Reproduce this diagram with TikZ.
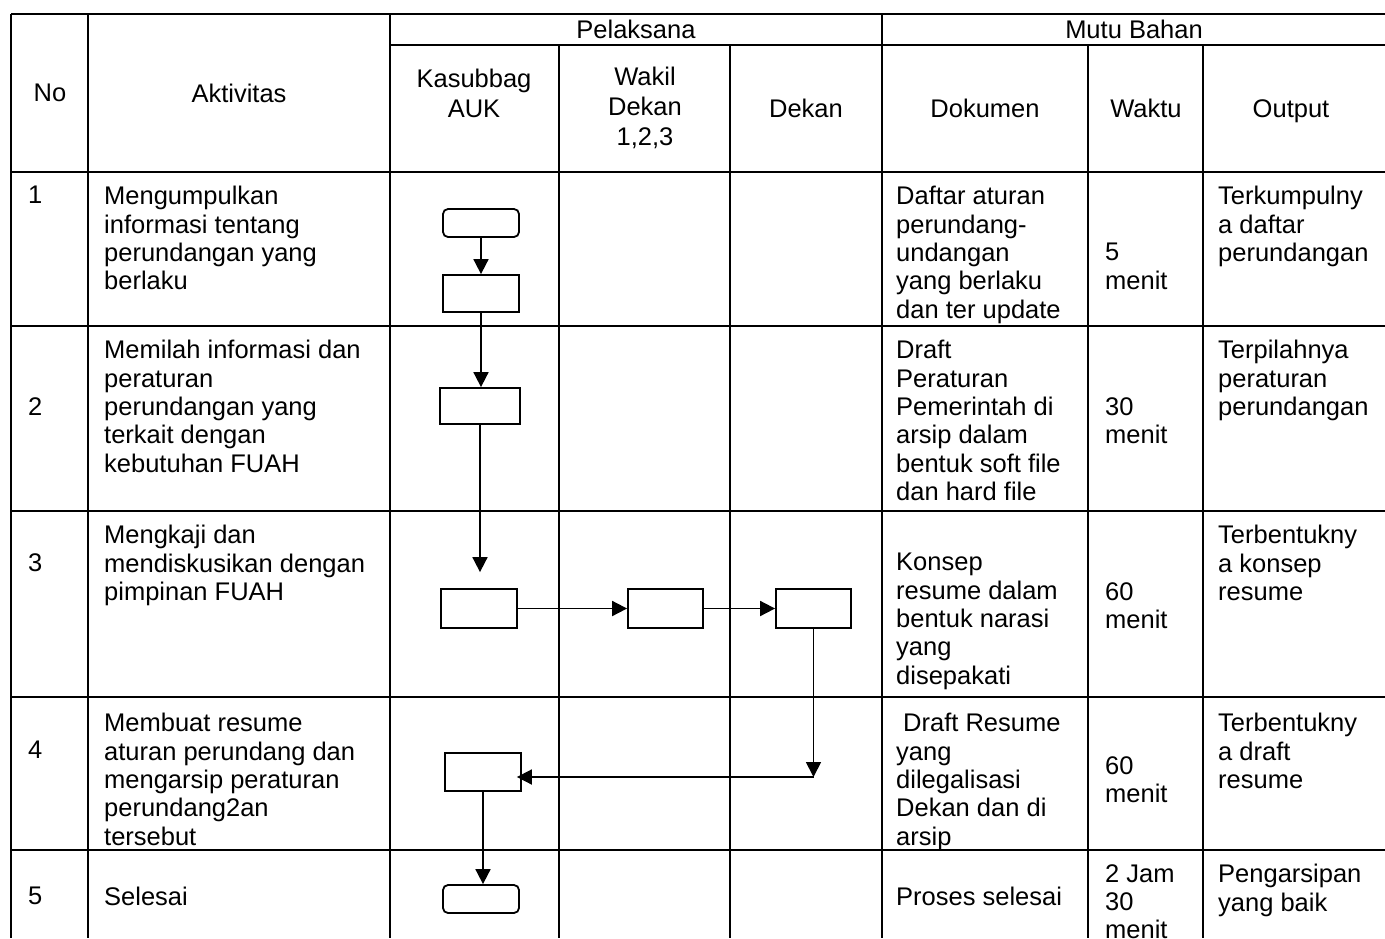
\documentclass[tikz,border=0pt]{standalone}
\usepackage{fontspec}
\setmainfont{Liberation Sans}
\usetikzlibrary{arrows.meta}

\begin{document}
\begin{tikzpicture}[x=1pt, y=-1pt,
  grid/.style={line width=2pt},
  hd/.style={align=center, inner sep=0pt, font=\fontsize{25.5}{30}\selectfont},
  txt/.style={anchor=north west, align=left, inner sep=0pt, font=\fontsize{25.5}{28.4}\selectfont},
  proc/.style={draw, line width=1.8pt, minimum width=76pt, minimum height=38pt, inner sep=0pt},
  term/.style={proc, rounded corners=5pt, minimum height=28pt},
  arr/.style={-{Triangle[length=15pt, width=15pt]}, line width=1.8pt}]
\useasboundingbox (0,0) rectangle (1385,938);
% table
\draw[grid] (11,14) -- (1385,14) (390,45) -- (1385,45) (11,172) -- (1385,172) (11,326) -- (1385,326);
\draw[grid] (11,511) -- (1385,511) (11,697) -- (1385,697) (11,850) -- (1385,850);
\draw[grid] (11,14) -- (11,938) (88,14) -- (88,938) (390,14) -- (390,938) (882,14) -- (882,938);
\draw[grid] (559,45) -- (559,938) (730,45) -- (730,938) (1088,45) -- (1088,938) (1203,45) -- (1203,938);
% header
\node[hd] (pel) at (636,29) {Pelaksana};
\node[hd] (mutu) at (1134,29) {Mutu Bahan};
\node[hd] (no) at (50,93) {No};
\node[hd] (akt) at (239,93) {Aktivitas};
\node[hd] (kas) at (474,93) {Kasubbag\\AUK};
\node[hd] (wd) at (645,108) {Wakil\\Dekan\\1,2,3};
\node[hd] (dek) at (806,108) {Dekan};
\node[hd] (dok) at (985,108) {Dokumen};
\node[hd] (wkt) at (1146,108) {Waktu};
\node[hd] (out) at (1291,111) {Output};
% row 1
\node[txt] (no1) at (28,186) {1};
\node[txt] (akt1) at (104,186) {Mengumpulkan\\informasi tentang\\perundangan yang\\berlaku};
\node[txt] (dok1) at (896,186) {Daftar aturan\\perundang-\\undangan\\yang berlaku\\dan ter update};
\node[txt] (wkt1) at (1105,243) {5\\menit};
\node[txt] (out1) at (1218,186) {Terkumpulny\\a daftar\\perundangan};
% row 2
\node[txt] (no2) at (28,397) {2};
\node[txt] (akt2) at (104,340) {Memilah informasi dan\\peraturan\\perundangan yang\\terkait dengan\\kebutuhan FUAH};
\node[txt] (dok2) at (896,340) {Draft\\Peraturan\\Pemerintah di\\arsip dalam\\bentuk soft file\\dan hard file};
\node[txt] (wkt2) at (1105,397) {30\\menit};
\node[txt] (out2) at (1218,340) {Terpilahnya\\peraturan\\perundangan};
% row 3
\node[txt] (no3) at (28,553) {3};
\node[txt] (akt3) at (104,525) {Mengkaji dan\\mendiskusikan dengan\\pimpinan FUAH};
\node[txt] (dok3) at (896,553) {Konsep\\resume dalam\\bentuk narasi\\yang\\disepakati};
\node[txt] (wkt3) at (1105,582) {60\\menit};
\node[txt] (out3) at (1218,525) {Terbentukny\\a konsep\\resume};
% row 4
\node[txt] (no4) at (28,741) {4};
\node[txt] (akt4) at (104,713) {Membuat resume\\aturan perundang dan\\mengarsip peraturan\\perundang2an\\tersebut};
\node[txt] (dok4) at (896,713) {\hspace{7pt}Draft Resume\\yang\\dilegalisasi\\Dekan dan di\\arsip};
\node[txt] (wkt4) at (1105,756) {60\\menit};
\node[txt] (out4) at (1218,713) {Terbentukny\\a draft\\resume};
% row 5
\node[txt] (no5) at (28,887) {5};
\node[txt] (akt5) at (104,887) {Selesai};
\node[txt] (dok5) at (896,887) {Proses selesai};
\node[txt] (wkt5) at (1105,864) {2 Jam\\30\\menit};
\node[txt] (out5) at (1218,864) {Pengarsipan\\yang baik};
% flow
\node[term] (t1) at (481,223) {};
\node[proc, minimum height=37pt] (p1) at (481,293.5) {};
\node[proc, minimum width=80pt, minimum height=36pt] (p2) at (480,406) {};
\node[proc, minimum height=39pt] (p3) at (479,608.5) {};
\node[proc, minimum width=75pt, minimum height=39pt] (p4) at (665.5,608.5) {};
\node[proc, minimum width=75pt, minimum height=39pt] (p5) at (813.5,608.5) {};
\node[proc] (p6) at (483,772) {};
\node[term] (t2) at (481,899) {};
\coordinate (bend) at (813.5,777);
\draw[arr] (t1) -- (p1);
\draw[arr] (p1.south) -- (p1.south |- p2.north);
\draw[arr] (p2.south) -- ([yshift=16pt]p2.south |- p3.north);
\draw[arr] (p3) -- (p4);
\draw[arr] (p4) -- (p5);
\draw[arr] (p5.south) -- (bend);
\draw[arr, shorten >=-5pt] (bend) -- (bend -| p6.east);
\draw[arr] (p6.south) -- (p6.south |- t2.north);
\end{tikzpicture}
\end{document}
